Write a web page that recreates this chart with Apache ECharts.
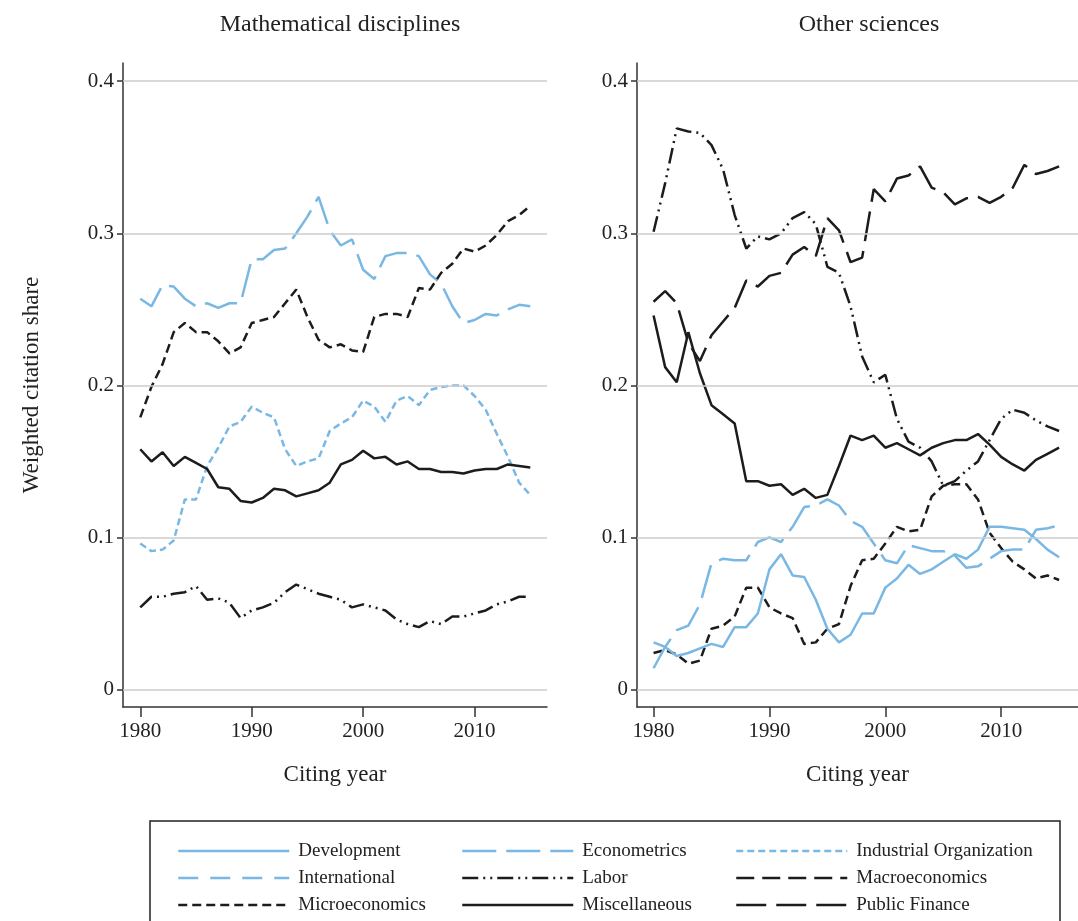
<!DOCTYPE html>
<html>
<head>
<meta charset="utf-8">
<title>Weighted citation share</title>
<script src="https://cdn.jsdelivr.net/npm/echarts@6/dist/echarts.min.js"></script>
<style>
  html, body { margin: 0; padding: 0; background: #fff; }
  #main { width: 1078px; height: 921px; }
</style>
</head>
<body>
<div id="main"></div>
<script>
// citing years shared by both panels
const years = [1980, 1981, 1982, 1983, 1984, 1985, 1986, 1987, 1988, 1989,
  1990, 1991, 1992, 1993, 1994, 1995, 1996, 1997, 1998, 1999,
  2000, 2001, 2002, 2003, 2004, 2005, 2006, 2007, 2008, 2009,
  2010, 2011, 2012, 2013, 2014, 2015];

const xTicks = [1980, 1990, 2000, 2010];
const yTicks = [0, 0.1, 0.2, 0.3, 0.4];

// Mathematical disciplines
const mathEconometrics = [0.257, 0.252, 0.266, 0.265, 0.257, 0.252, 0.254, 0.251, 0.254, 0.254,
  0.283, 0.283, 0.289, 0.290, 0.300, 0.311, 0.324, 0.302, 0.292, 0.296,
  0.276, 0.270, 0.285, 0.287, 0.287, 0.285, 0.273, 0.267, 0.252, 0.241,
  0.243, 0.247, 0.246, 0.250, 0.253, 0.252];
const mathMicro = [0.179, 0.199, 0.214, 0.235, 0.241, 0.235, 0.235, 0.229, 0.221, 0.225,
  0.241, 0.243, 0.245, 0.254, 0.263, 0.245, 0.230, 0.225, 0.227, 0.223,
  0.222, 0.245, 0.247, 0.247, 0.245, 0.264, 0.263, 0.274, 0.280, 0.290,
  0.288, 0.292, 0.299, 0.308, 0.312, 0.318];
const mathIO = [0.096, 0.091, 0.092, 0.098, 0.125, 0.125, 0.147, 0.159, 0.173, 0.176,
  0.186, 0.182, 0.179, 0.158, 0.147, 0.150, 0.152, 0.170, 0.175, 0.179,
  0.190, 0.186, 0.176, 0.190, 0.193, 0.187, 0.197, 0.199, 0.200, 0.200,
  0.193, 0.184, 0.168, 0.153, 0.136, 0.128];
const mathMisc = [0.158, 0.150, 0.156, 0.147, 0.153, 0.149, 0.145, 0.133, 0.132, 0.124,
  0.123, 0.126, 0.132, 0.131, 0.127, 0.129, 0.131, 0.136, 0.148, 0.151,
  0.157, 0.152, 0.153, 0.148, 0.150, 0.145, 0.145, 0.143, 0.143, 0.142,
  0.144, 0.145, 0.145, 0.148, 0.147, 0.146];
const mathLabor = [0.054, 0.061, 0.061, 0.063, 0.064, 0.068, 0.059, 0.060, 0.057, 0.047,
  0.052, 0.054, 0.057, 0.064, 0.069, 0.066, 0.063, 0.061, 0.059, 0.054,
  0.056, 0.054, 0.052, 0.046, 0.043, 0.041, 0.045, 0.043, 0.048, 0.048,
  0.050, 0.052, 0.056, 0.058, 0.061, 0.061];

// Other sciences
const otherLabor = [0.301, 0.333, 0.369, 0.367, 0.366, 0.358, 0.342, 0.312, 0.290, 0.298,
  0.296, 0.300, 0.310, 0.314, 0.306, 0.278, 0.274, 0.252, 0.219, 0.202,
  0.207, 0.178, 0.163, 0.159, 0.150, 0.134, 0.137, 0.144, 0.150, 0.164,
  0.178, 0.184, 0.182, 0.177, 0.173, 0.170];
const otherPF = [0.255, 0.262, 0.254, 0.228, 0.216, 0.233, 0.242, 0.251, 0.269, 0.265,
  0.272, 0.274, 0.286, 0.291, 0.285, 0.310, 0.302, 0.281, 0.284, 0.329,
  0.321, 0.336, 0.338, 0.344, 0.330, 0.327, 0.319, 0.323, 0.324, 0.320,
  0.324, 0.330, 0.345, 0.339, 0.341, 0.344];
const otherMisc = [0.246, 0.212, 0.202, 0.235, 0.208, 0.187, 0.181, 0.175, 0.137, 0.137,
  0.134, 0.135, 0.128, 0.132, 0.126, 0.128, 0.147, 0.167, 0.164, 0.167,
  0.159, 0.162, 0.158, 0.154, 0.159, 0.162, 0.164, 0.164, 0.168, 0.161,
  0.153, 0.148, 0.144, 0.151, 0.155, 0.159];
const otherMicro = [0.024, 0.026, 0.023, 0.017, 0.019, 0.040, 0.042, 0.048, 0.067, 0.067,
  0.054, 0.050, 0.047, 0.030, 0.031, 0.040, 0.043, 0.068, 0.085, 0.086,
  0.096, 0.107, 0.104, 0.105, 0.127, 0.134, 0.135, 0.135, 0.125, 0.103,
  0.093, 0.084, 0.079, 0.073, 0.075, 0.072];
const otherDev = [0.031, 0.028, 0.022, 0.024, 0.027, 0.030, 0.028, 0.041, 0.041, 0.050,
  0.079, 0.089, 0.075, 0.074, 0.059, 0.040, 0.031, 0.036, 0.050, 0.050,
  0.067, 0.073, 0.082, 0.076, 0.079, 0.084, 0.089, 0.086, 0.092, 0.107,
  0.107, 0.106, 0.105, 0.099, 0.092, 0.087];
const otherEconometrics = [0.014, 0.028, 0.039, 0.042, 0.056, 0.083, 0.086, 0.085, 0.085, 0.097,
  0.100, 0.097, 0.107, 0.120, 0.121, 0.125, 0.121, 0.111, 0.107, 0.096,
  0.085, 0.083, 0.095, 0.093, 0.091, 0.091, 0.088, 0.080, 0.081, 0.086,
  0.091, 0.092, 0.092, 0.105, 0.106, 0.108];
// fields listed in the legend but not drawn in either panel
const noData = [];

const BLUE = '#7ab8e4';
const BLACK = '#1c1c1c';
const FONT = 'Liberation Serif';

const styles = {
  'Development': { color: BLUE, type: 'solid' },
  'Econometrics': { color: BLUE, type: [34, 10] },
  'Industrial Organization': { color: BLUE, type: [7, 4] },
  'International': { color: BLUE, type: [20, 12] },
  'Labor': { color: BLACK, type: [16, 5, 2, 5, 2, 5] },
  'Macroeconomics': { color: BLACK, type: [18, 8] },
  'Microeconomics': { color: BLACK, type: [9, 5] },
  'Miscellaneous': { color: BLACK, type: 'solid' },
  'Public Finance': { color: BLACK, type: [30, 10] }
};

function lineSeries(name, values, panel) {
  const s = styles[name];
  return {
    name: name,
    type: 'line',
    xAxisIndex: panel,
    yAxisIndex: panel,
    symbol: 'none',
    z: 3,
    color: s.color,
    lineStyle: { color: s.color, width: 2.5, type: s.type, cap: 'butt' },
    data: values.map((v, i) => [years[i], v])
  };
}

// horizontal grid lines at the labelled ticks
function gridLines(panel) {
  return {
    name: 'grid' + panel,
    type: 'line',
    xAxisIndex: panel,
    yAxisIndex: panel,
    data: [],
    z: 1,
    markLine: {
      silent: true,
      symbol: ['none', 'none'],
      label: { show: false },
      lineStyle: { color: '#cccccc', width: 1.5, type: 'solid' },
      data: yTicks.map(v => ({ yAxis: v }))
    }
  };
}

function xAxis(panel, min, max) {
  return {
    type: 'value',
    gridIndex: panel,
    min: min,
    max: max,
    name: 'Citing year',
    nameLocation: 'middle',
    nameGap: 56,
    nameTextStyle: { fontFamily: FONT, fontSize: 23, color: '#222' },
    axisLine: { onZero: false, lineStyle: { color: '#333', width: 1.5 } },
    axisTick: { show: true, length: 10, customValues: xTicks, lineStyle: { color: '#333', width: 1.5 } },
    axisLabel: {
      customValues: xTicks, margin: 14, fontFamily: FONT, fontSize: 21, color: '#222',
      formatter: v => String(v)
    },
    splitLine: { show: false }
  };
}

function yAxis(panel, withName) {
  return {
    type: 'value',
    gridIndex: panel,
    min: -0.0115,
    max: 0.412,
    name: withName ? 'Weighted citation share' : '',
    nameLocation: 'middle',
    nameRotate: 90,
    nameGap: 80,
    nameTextStyle: { fontFamily: FONT, fontSize: 23, color: '#222' },
    axisLine: { onZero: false, lineStyle: { color: '#333', width: 1.5 } },
    axisTick: { show: true, length: 6, customValues: yTicks, lineStyle: { color: '#333', width: 1.5 } },
    axisLabel: {
      customValues: yTicks, margin: 9, fontFamily: FONT, fontSize: 21, color: '#222',
      formatter: v => (v === 0 ? '0' : v.toFixed(1))
    },
    splitLine: { show: false }
  };
}

function legendColumn(left, names) {
  return {
    orient: 'vertical',
    left: left,
    top: 836,
    itemWidth: 111,
    itemHeight: 20,
    itemGap: 7,
    selectedMode: false,
    data: names,
    itemStyle: { opacity: 0 },
    lineStyle: { width: 2.5 },
    textStyle: { fontFamily: FONT, fontSize: 19, color: '#222', lineHeight: 20, padding: [0, 0, 0, 4] }
  };
}

const chart = echarts.init(document.getElementById('main'));

chart.setOption({
  animation: false,
  backgroundColor: '#fff',
  title: [
    { text: 'Mathematical disciplines', left: 335, top: 8, textAlign: 'center',
      textStyle: { fontFamily: FONT, fontSize: 24, fontWeight: 'normal', color: '#222' } },
    { text: 'Other sciences', left: 864, top: 8, textAlign: 'center',
      textStyle: { fontFamily: FONT, fontSize: 24, fontWeight: 'normal', color: '#222' } }
  ],
  grid: [
    { left: 123, top: 63, width: 424, height: 644 },
    { left: 637, top: 63, width: 454, height: 644 }
  ],
  xAxis: [xAxis(0, 1978.45, 2016.5), xAxis(1, 1978.57, 2016.63)],
  yAxis: [yAxis(0, true), yAxis(1, false)],
  legend: [
    legendColumn(172, ['Development', 'International', 'Microeconomics']),
    legendColumn(456, ['Econometrics', 'Labor', 'Miscellaneous']),
    legendColumn(730, ['Industrial Organization', 'Macroeconomics', 'Public Finance'])
  ],
  graphic: [
    { type: 'rect', shape: { x: 150, y: 821, width: 910, height: 120 }, silent: true,
      style: { fill: 'none', stroke: '#222', lineWidth: 1.5 } }
  ],
  series: [
    gridLines(0),
    gridLines(1),
    lineSeries('Econometrics', mathEconometrics, 0),
    lineSeries('Microeconomics', mathMicro, 0),
    lineSeries('Industrial Organization', mathIO, 0),
    lineSeries('Miscellaneous', mathMisc, 0),
    lineSeries('Labor', mathLabor, 0),
    lineSeries('Labor', otherLabor, 1),
    lineSeries('Public Finance', otherPF, 1),
    lineSeries('Miscellaneous', otherMisc, 1),
    lineSeries('Microeconomics', otherMicro, 1),
    lineSeries('Development', otherDev, 1),
    lineSeries('Econometrics', otherEconometrics, 1),
    lineSeries('International', noData, 1),
    lineSeries('Macroeconomics', noData, 1)
  ]
});
</script>
</body>
</html>
